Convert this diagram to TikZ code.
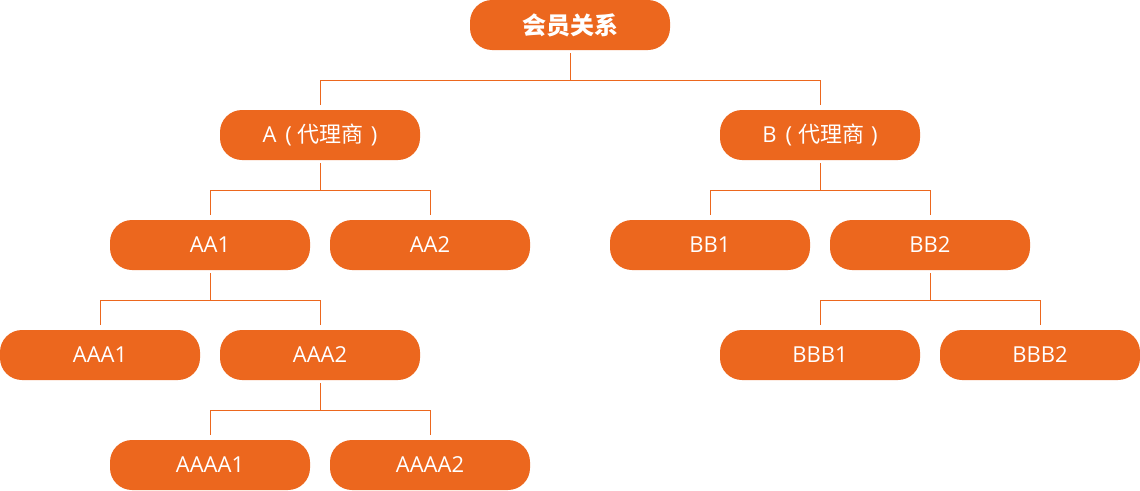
\documentclass[tikz,border=0pt]{standalone}
\usepackage{fontspec}
\setmainfont{Open Sans}
\newfontfamily\cjk{Noto Sans CJK SC}
\definecolor{vorange}{RGB}{236,103,30}
\tikzset{
  member/.style={fill=vorange,text=white,rounded corners=22pt,minimum width=200pt,minimum height=50pt,inner sep=0pt,font=\fontsize{22pt}{25pt}\selectfont},
  link/.style={draw=vorange,line width=1pt}
}
% parent, left child, right child
\newcommand{\branch}[3]{
  \draw[link] ([yshift=-3pt]#1.south) -- ++(0,-27pt) coordinate (#1m);
  \draw[link] ([yshift=5pt]#2.north) |- (#1m) -| ([yshift=5pt]#3.north);
}
% agent label
\newcommand{\agent}[1]{#1\hspace{9pt}(\hspace{6pt}{\cjk 代理商}\hspace{7pt})}
\begin{document}
\begin{tikzpicture}[x=1pt,y=1pt]
	\useasboundingbox (0,0) rectangle (1140,-490);
	\node[member] (root) at (570,-25){\cjk\bfseries\fontsize{24pt}{27pt}\selectfont 会员关系};
	\node[member] (A) at (320,-135){\agent{A}};
	\node[member] (B) at (820,-135){\agent{B}};
	\node[member] (AA1) at (210,-245){AA1};
	\node[member] (AA2) at (430,-245){AA2};
	\node[member] (BB1) at (710,-245){BB1};
	\node[member] (BB2) at (930,-245){BB2};
	\node[member] (AAA1) at (100,-355){AAA1};
	\node[member] (AAA2) at (320,-355){AAA2};
	\node[member] (BBB1) at (820,-355){BBB1};
	\node[member] (BBB2) at (1040,-355){BBB2};
	\node[member] (AAAA1) at (210,-465){AAAA1};
	\node[member] (AAAA2) at (430,-465){AAAA2};
	\branch{root}{A}{B}
	\branch{A}{AA1}{AA2}
	\branch{B}{BB1}{BB2}
	\branch{AA1}{AAA1}{AAA2}
	\branch{BB2}{BBB1}{BBB2}
	\branch{AAA2}{AAAA1}{AAAA2}
\end{tikzpicture}
\end{document}
